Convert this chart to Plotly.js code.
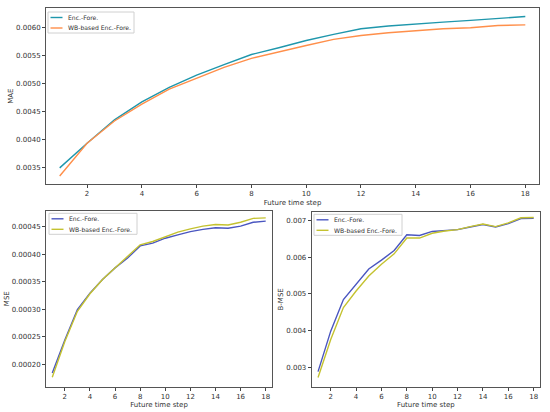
<!DOCTYPE html>
<html><head><meta charset="utf-8">
<script src="https://cdn.plot.ly/plotly-3.0.1.min.js"></script>
<style>html,body{margin:0;padding:0;background:#fff}#chart{width:550px;height:412px}</style>
</head><body><div id="chart"></div>
<script>
var steps = [1,2,3,4,5,6,7,8,9,10,11,12,13,14,15,16,17,18];
var seriesNames = ["Enc.-Fore.", "WB-based Enc.-Fore."];
var maeEnc = [0.00349,0.00393,0.00435,0.00467,0.00493,0.00515,0.00534,0.00552,0.00564,0.00577,0.00588,0.00598,0.00603,0.00607,0.00610,0.00613,0.00617,0.00620];
var maeWB  = [0.003345,0.00393,0.00433,0.00463,0.00490,0.00510,0.00529,0.00545,0.00557,0.00568,0.00579,0.00586,0.00591,0.00595,0.00598,0.00600,0.00604,0.00605];
var mseEnc = [0.000184,0.000244,0.000299,0.000329,0.000354,0.000375,0.000393,0.000415,0.000420,0.000429,0.000435,0.000441,0.000445,0.000448,0.000447,0.000451,0.000458,0.000460];
var mseWB  = [0.000176,0.000241,0.000296,0.000328,0.000354,0.000375,0.000395,0.000417,0.000423,0.000432,0.000440,0.000446,0.000451,0.000454,0.000453,0.000458,0.000465,0.000466];
var bmseEnc = [0.00289,0.00399,0.00485,0.00526,0.00568,0.00592,0.00618,0.00661,0.00659,0.00670,0.00673,0.00675,0.00682,0.00689,0.00682,0.00691,0.00705,0.00706];
var bmseWB  = [0.00273,0.00376,0.00463,0.00508,0.00549,0.00581,0.00609,0.00652,0.00652,0.00665,0.00671,0.00675,0.00683,0.00690,0.00683,0.00693,0.00707,0.00708];
var xTicks = [2,4,6,8,10,12,14,16,18];
var maeTicks = [0.0035,0.0040,0.0045,0.0050,0.0055,0.0060];
var mseTicks = [0.00020,0.00025,0.00030,0.00035,0.00040,0.00045];
var bmseTicks = [0.003,0.004,0.005,0.006,0.007];

var teal = '#1f97ac', orange = '#ff8f4a', blue = '#4a56c0', olive = '#c4c230';
function tr(y, name, color, xa, ya){
  return {x: steps, y: y, name: name, type:'scatter', mode:'lines',
    line:{color:color, width:1.4}, xaxis:xa, yaxis:ya, showlegend:false};
}
var data = [
  tr(maeEnc, seriesNames[0], teal, 'x', 'y'),
  tr(maeWB, seriesNames[1], orange, 'x', 'y'),
  tr(mseEnc, seriesNames[0], blue, 'x2', 'y2'),
  tr(mseWB, seriesNames[1], olive, 'x2', 'y2'),
  tr(bmseEnc, seriesNames[0], blue, 'x3', 'y3'),
  tr(bmseWB, seriesNames[1], olive, 'x3', 'y3')
];
var H = 412, W = 550;
function py(p){ return 1 - p/H; }
function px(p){ return p/W; }
var tf = {family:'DejaVu Sans', size:7, color:'#333'};
function xax(dom, anchor){
  return {domain:dom, anchor:anchor, range:[0.5,18.5], tickvals:xTicks, ticks:'outside', ticklen:3, tickcolor:'#444',
    showline:true, mirror:true, linecolor:'#555', linewidth:1, showgrid:false, zeroline:false, tickfont:tf,
    title:{text:'Future time step', font:tf, standoff:2}};
}
function yax(dom, anchor, range, tv, fmt, title){
  return {domain:dom, anchor:anchor, range:range, tickvals:tv, tickformat:fmt, ticks:'outside', ticklen:3, tickcolor:'#444',
    showline:true, mirror:true, linecolor:'#555', linewidth:1, showgrid:false, zeroline:false, tickfont:tf,
    title:{text:title, font:tf, standoff:1}};
}
// hand-built compact legends (matplotlib style)
var shapes = [], annotations = [];
function legendBox(x0, y0, w, colors){
  var h = 21;
  shapes.push({type:'rect', xref:'paper', yref:'paper', x0:px(x0), x1:px(x0+w), y0:py(y0+h), y1:py(y0),
    line:{color:'#d0d0d0', width:1}, fillcolor:'rgba(255,255,255,0.9)', layer:'above'});
  for (var i=0;i<2;i++){
    var yy = y0 + 5.5 + i*10.5;
    shapes.push({type:'line', xref:'paper', yref:'paper', x0:px(x0+2.5), x1:px(x0+14.5), y0:py(yy), y1:py(yy),
      line:{color:colors[i], width:1.4}, layer:'above'});
    annotations.push({xref:'paper', yref:'paper', x:px(x0+18), y:py(yy), xanchor:'left', yanchor:'middle',
      text:seriesNames[i], showarrow:false, font:{family:'DejaVu Sans', size:6.1, color:'#333'}});
  }
}
legendBox(48, 12, 86, [teal, orange]);
legendBox(49, 213.3, 88, [blue, olive]);
legendBox(314, 214.3, 88, [blue, olive]);

var layout = {
  width:W, height:H, margin:{l:0,r:0,t:0,b:0}, paper_bgcolor:'#fff', plot_bgcolor:'#fff',
  font:{family:'DejaVu Sans', size:7, color:'#333'},
  xaxis: xax([px(46), px(539)], 'y'),
  yaxis: yax([py(184), py(8.3)], 'x', [0.003201,0.006347], maeTicks, '.4f', 'MAE'),
  xaxis2: xax([px(46), px(272)], 'y2'),
  yaxis2: yax([py(386.7), py(210.7)], 'x2', [0.000159,0.000479], mseTicks, '.5f', 'MSE'),
  xaxis3: xax([px(311.7), px(540)], 'y3'),
  yaxis3: yax([py(386.7), py(212)], 'x3', [0.00248,0.007228], bmseTicks, '.3f', 'B-MSE'),
  shapes: shapes, annotations: annotations,
  showlegend:false
};
Plotly.newPlot('chart', data, layout, {displayModeBar:false, staticPlot:true});
</script></body></html>
